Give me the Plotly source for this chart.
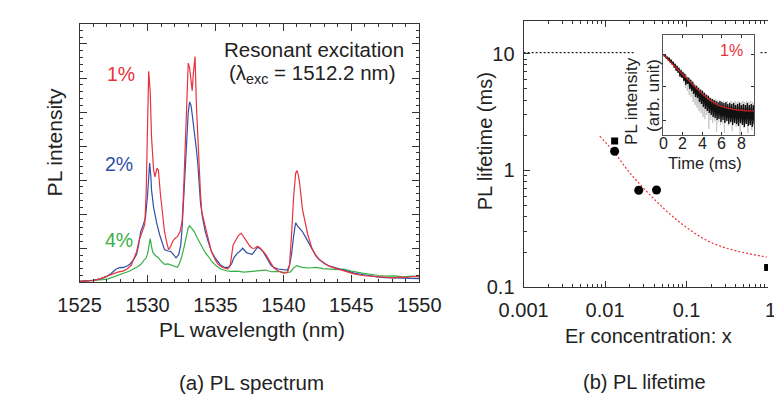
import plotly.graph_objects as go

W, H = 782, 403
FONT = "Liberation Sans"
TXT = "#222222"
AX = "#333333"
RED = "#E8323C"
BLUE = "#2F4FA8"
GREEN = "#3AAE48"

# ---------------- (a) PL spectrum data ----------------
wl_red = [1525.0, 1525.5, 1526.0, 1526.5, 1527.0, 1527.5, 1527.8, 1528.2, 1528.5, 1528.8, 1529.0, 1529.2,
          1529.4, 1529.6, 1529.8, 1529.9, 1530.0, 1530.09, 1530.2, 1530.3, 1530.45, 1530.55, 1530.7, 1530.8,
          1530.95, 1531.1, 1531.25, 1531.4, 1531.55, 1531.7, 1531.85, 1532.0, 1532.2, 1532.4, 1532.55, 1532.65,
          1532.8, 1532.9, 1533.0, 1533.1, 1533.2, 1533.29, 1533.38, 1533.5, 1533.6, 1533.7, 1533.8, 1533.9,
          1534.0, 1534.2, 1534.4, 1534.7, 1535.0, 1535.2, 1535.5, 1535.9, 1536.1, 1536.3, 1536.5, 1536.7,
          1536.9, 1537.1, 1537.3, 1537.5, 1537.7, 1537.9, 1538.1, 1538.3, 1538.5, 1538.7, 1538.9, 1539.1,
          1539.3, 1539.6, 1540.0, 1540.3, 1540.45, 1540.6, 1540.75, 1540.9, 1541.0, 1541.1, 1541.2, 1541.4,
          1541.6, 1541.8, 1542.1, 1542.3, 1542.6, 1543.0, 1543.3, 1543.6, 1544.0, 1544.3, 1544.7, 1545.2,
          1545.8, 1546.4, 1547.0, 1547.5, 1548.1, 1548.6, 1549.0, 1549.5, 1550.0]
pl_red = [0.03, 0.03, 0.05, 0.10, 0.17, 0.24, 0.30, 0.33, 0.39, 0.50, 0.70, 0.90,
          1.25, 1.50, 1.70, 2.60, 4.80, 6.20, 5.60, 4.25, 3.30, 3.10, 3.35, 3.30,
          2.60, 1.96, 1.50, 1.20, 0.96, 1.05, 1.20, 1.28, 1.34, 1.49, 1.80, 2.60,
          4.25, 5.60, 6.44, 6.30, 5.90, 5.63, 6.15, 6.63, 5.20, 4.20, 3.49, 2.60,
          2.06, 1.70, 1.39, 0.91, 0.65, 0.53, 0.44, 0.39, 0.53, 1.10, 1.25, 1.38,
          1.44, 1.30, 1.20, 1.08, 1.00, 1.00, 1.06, 1.00, 0.92, 0.82, 0.68, 0.53,
          0.42, 0.34, 0.27, 0.28, 0.50, 1.39, 2.50, 3.20, 3.28, 3.15, 2.90, 2.15,
          1.75, 1.39, 1.00, 0.85, 0.68, 0.56, 0.49, 0.44, 0.39, 0.35, 0.30, 0.25,
          0.20, 0.18, 0.17, 0.15, 0.13, 0.16, 0.14, 0.17, 0.16]

wl_blue = [1525.0, 1525.5, 1526.0, 1526.5, 1526.9, 1527.3, 1527.7, 1528.0, 1528.2, 1528.5, 1528.7, 1529.0,
           1529.2, 1529.35, 1529.5, 1529.7, 1529.85, 1530.0, 1530.1, 1530.16, 1530.25, 1530.3, 1530.45, 1530.55,
           1530.7, 1530.9, 1531.1, 1531.25, 1531.5, 1531.7, 1531.9, 1532.1, 1532.3, 1532.45, 1532.55, 1532.65,
           1532.75, 1532.9, 1533.0, 1533.1, 1533.2, 1533.3, 1533.45, 1533.6, 1533.7, 1533.8, 1533.9, 1534.05,
           1534.25, 1534.5, 1534.7, 1535.0, 1535.2, 1535.4, 1535.65, 1536.0, 1536.2, 1536.35, 1536.6, 1536.8,
           1537.0, 1537.15, 1537.3, 1537.5, 1537.7, 1537.9, 1538.1, 1538.3, 1538.5, 1538.7, 1538.9, 1539.1,
           1539.35, 1539.6, 1540.0, 1540.3, 1540.45, 1540.6, 1540.75, 1540.9, 1541.05, 1541.2, 1541.4, 1541.6,
           1541.8, 1542.1, 1542.4, 1542.7, 1543.1, 1543.4, 1543.75, 1544.2, 1544.7, 1545.2, 1545.8, 1546.4,
           1547.0, 1547.5, 1548.1, 1548.6, 1549.2, 1550.0]
pl_blue = [0.03, 0.04, 0.06, 0.10, 0.15, 0.25, 0.39, 0.44, 0.43, 0.48, 0.53, 0.68,
           0.82, 1.10, 1.49, 1.70, 1.90, 2.53, 3.30, 3.50, 3.10, 2.70, 2.20, 1.96,
           1.70, 1.39, 1.10, 0.96, 0.92, 0.91, 0.82, 0.72, 0.82, 1.10, 1.60, 2.40,
           3.30, 4.40, 5.00, 5.30, 5.20, 4.90, 4.44, 3.90, 3.49, 2.90, 2.34, 1.90,
           1.49, 1.15, 0.91, 0.70, 0.58, 0.50, 0.44, 0.44, 0.55, 0.72, 0.85, 0.91,
           1.00, 0.94, 0.87, 0.84, 0.82, 0.92, 1.03, 0.99, 0.90, 0.77, 0.62, 0.49,
           0.43, 0.39, 0.37, 0.36, 0.50, 0.82, 1.35, 1.75, 1.65, 1.58, 1.49, 1.35,
           1.20, 0.95, 0.77, 0.65, 0.53, 0.48, 0.44, 0.38, 0.32, 0.27, 0.23, 0.19,
           0.15, 0.14, 0.13, 0.12, 0.12, 0.11]

wl_green = [1525.0, 1525.6, 1526.2, 1526.7, 1527.1, 1527.6, 1528.2, 1528.7, 1529.2, 1529.5, 1529.7, 1529.9,
            1530.0, 1530.1, 1530.2, 1530.3, 1530.4, 1530.6, 1530.8, 1531.0, 1531.25, 1531.5, 1531.7, 1532.0,
            1532.2, 1532.35, 1532.5, 1532.7, 1532.9, 1533.0, 1533.1, 1533.25, 1533.45, 1533.6, 1533.8, 1534.0,
            1534.25, 1534.5, 1534.7, 1535.0, 1535.4, 1535.8, 1536.1, 1536.6, 1537.1, 1537.7, 1538.2, 1538.7,
            1539.1, 1539.6, 1540.0, 1540.5, 1540.75, 1541.0, 1541.2, 1541.4, 1541.9, 1542.4, 1542.9, 1543.5,
            1544.0, 1544.45, 1545.0, 1545.8, 1546.4, 1547.0, 1547.6, 1548.2, 1548.8, 1549.4, 1550.0]
pl_green = [0.03, 0.04, 0.06, 0.08, 0.10, 0.17, 0.25, 0.33, 0.44, 0.52, 0.63, 0.72,
            0.82, 1.05, 1.28, 1.05, 0.87, 0.78, 0.72, 0.62, 0.53, 0.54, 0.51, 0.48,
            0.44, 0.55, 0.72, 1.05, 1.39, 1.60, 1.66, 1.60, 1.49, 1.35, 1.20, 1.02,
            0.87, 0.75, 0.63, 0.50, 0.39, 0.34, 0.32, 0.33, 0.30, 0.32, 0.34, 0.36,
            0.31, 0.32, 0.29, 0.30, 0.42, 0.49, 0.46, 0.44, 0.42, 0.44, 0.40, 0.39,
            0.37, 0.39, 0.33, 0.27, 0.23, 0.20, 0.18, 0.19, 0.16, 0.18, 0.17]

# ---------------- (b) PL lifetime data ----------------
x_circle = [0.0131, 0.0259, 0.0428]
tau_circle = [1.46, 0.677, 0.68]
x_square = [0.0131, 0.99]
tau_square = [1.79, 0.1475]
x_fit = [0.0086, 0.01337, 0.019, 0.0283, 0.0421, 0.0655, 0.111, 0.206, 0.418, 0.966]
tau_fit = [1.97, 1.39, 1.00, 0.73, 0.548, 0.411, 0.308, 0.239, 0.204, 0.181]
x_ref_left = [0.001, 0.0227]
x_ref_right = [0.81, 1.0]
tau_ref = [10.2, 10.2]
x_ticks = [0.001, 0.01, 0.1, 1]
x_ticktext = ["0.001", "0.01", "0.1", "1"]
y_ticks = [0.1, 1, 10]
y_ticktext = ["0.1", "1", "10"]

# ---------------- inset decay data ----------------
t_black = [round(i * 0.1, 1) for i in range(94)]
i_black = [0.80, 0.78, 0.80, 0.76, 0.78, 0.74, 0.77, 0.72, 0.75, 0.70,
           0.73, 0.67, 0.71, 0.64, 0.69, 0.62, 0.67, 0.58, 0.65, 0.57,
           0.63, 0.54, 0.61, 0.50, 0.58, 0.51, 0.57, 0.46, 0.55, 0.44,
           0.53, 0.41, 0.50, 0.38, 0.49, 0.37, 0.47, 0.33, 0.45, 0.31,
           0.44, 0.28, 0.42, 0.26, 0.40, 0.24, 0.39, 0.22, 0.37, 0.20,
           0.36, 0.18, 0.35, 0.17, 0.34, 0.15, 0.33, 0.16, 0.34, 0.13,
           0.33, 0.15, 0.32, 0.12, 0.33, 0.14, 0.31, 0.11, 0.32, 0.13,
           0.31, 0.10, 0.32, 0.12, 0.30, 0.11, 0.31, 0.09, 0.32, 0.12,
           0.30, 0.10, 0.31, 0.08, 0.30, 0.11, 0.32, 0.09, 0.30, 0.10,
           0.31, 0.08, 0.30, 0.11]
t_gray = [round(2.05 + i * 0.1, 2) for i in range(73)]
i_gray = [0.52, 0.62, 0.47, 0.60, 0.44, 0.58, 0.40, 0.56, 0.38, 0.54,
          0.33, 0.52, 0.30, 0.49, 0.27, 0.48, 0.24, 0.46, 0.22, 0.45,
          0.18, 0.43, 0.16, 0.41, 0.20, 0.40, 0.06, 0.38, 0.15, 0.37,
          0.12, 0.36, 0.14, 0.36, 0.03, 0.35, 0.13, 0.35, 0.10, 0.34,
          0.12, 0.34, 0.02, 0.33, 0.13, 0.34, 0.09, 0.33, 0.11, 0.34,
          0.04, 0.33, 0.12, 0.34, 0.08, 0.33, 0.10, 0.34, 0.00, 0.33,
          0.11, 0.34, 0.07, 0.33, 0.12, 0.34, 0.02, 0.33, 0.10, 0.34,
          0.05, 0.33, 0.09]
t_fitcurve = [0.0, 0.5, 1.0, 1.5, 2.0, 2.5, 3.0, 3.5, 4.0, 4.5, 5.0, 5.5, 6.0, 6.5, 7.0, 7.5, 8.0, 8.5, 9.0, 9.3]
i_fitcurve = [0.80, 0.75, 0.70, 0.65, 0.60, 0.555, 0.505, 0.455, 0.41, 0.37, 0.335, 0.305, 0.285, 0.27,
              0.26, 0.252, 0.246, 0.242, 0.240, 0.239]
t_ticks = [0, 2, 4, 6, 8]


def px(x):
    return x / W


def py(y):
    return 1 - y / H


fig = go.Figure()

# (a) spectra
for wl, val, col in [(wl_green, pl_green, GREEN), (wl_blue, pl_blue, BLUE), (wl_red, pl_red, RED)]:
    fig.add_trace(go.Scatter(x=wl, y=val, mode="lines", line=dict(color=col, width=1.2),
                             xaxis="x", yaxis="y", showlegend=False))

# (b) lifetime
for xs in (x_ref_left, x_ref_right):
    fig.add_trace(go.Scatter(x=xs, y=tau_ref, mode="lines", line=dict(color="#222", width=1.3, dash="2px,2px"),
                             xaxis="x2", yaxis="y2", showlegend=False))
fig.add_trace(go.Scatter(x=x_fit, y=tau_fit, mode="lines",
                         line=dict(color=RED, width=1.2, dash="2px,2px", shape="spline"),
                         xaxis="x2", yaxis="y2", showlegend=False))
fig.add_trace(go.Scatter(x=x_circle, y=tau_circle, mode="markers", marker=dict(symbol="circle", size=9, color="black"),
                         xaxis="x2", yaxis="y2", showlegend=False))
fig.add_trace(go.Scatter(x=x_square, y=tau_square, mode="markers", marker=dict(symbol="square", size=7, color="black"),
                         xaxis="x2", yaxis="y2", showlegend=False))

# inset
fig.add_trace(go.Scatter(x=t_gray, y=i_gray, mode="lines", line=dict(color="#c8c8c8", width=1),
                         xaxis="x3", yaxis="y3", showlegend=False))
fig.add_trace(go.Scatter(x=t_black, y=i_black, mode="lines", line=dict(color="#111111", width=1.3),
                         xaxis="x3", yaxis="y3", showlegend=False))
fig.add_trace(go.Scatter(x=t_fitcurve, y=i_fitcurve, mode="lines", line=dict(color="#D42020", width=1.2, shape="spline"),
                         xaxis="x3", yaxis="y3", showlegend=False))

tickfont = dict(family=FONT, size=20, color=TXT)
log_minor_x = [m * 10 ** e for e in (-3, -2, -1) for m in range(2, 10)]
log_minor_y = [m * 10 ** e for e in (-1, 0, 1) for m in range(2, 10)]

fig.update_layout(
    width=W, height=H, autosize=False,
    margin=dict(l=0, r=0, t=0, b=0),
    paper_bgcolor="white", plot_bgcolor="white",
    font=dict(family=FONT, color=TXT),
    xaxis=dict(domain=[px(49.5), px(411)], range=[1525, 1550], tickmode="array",
               tickvals=[1525, 1530, 1535, 1540, 1545, 1550], ticks="inside", ticklen=7, tickwidth=1,
               tickcolor=AX, showline=True, linecolor=AX, linewidth=1.2, mirror="ticks", showgrid=False,
               zeroline=False, tickfont=tickfont, ticklabelstandoff=5,
               minor=dict(dtick=1, ticks="inside", ticklen=3.5, tickcolor=AX, showgrid=False),
               anchor="y"),
    yaxis=dict(domain=[py(282), py(16)], range=[0, 7.6], dtick=1, tick0=0, ticks="inside", ticklen=7,
               tickcolor=AX, showticklabels=False, showline=True, linecolor=AX, linewidth=1.2,
               mirror="ticks", showgrid=False, zeroline=False,
               minor=dict(dtick=0.2, ticks="inside", ticklen=3.5, tickcolor=AX, showgrid=False),
               anchor="x"),
    xaxis2=dict(domain=[px(522), 1.0], type="log", range=[-3, 0.0], tickmode="array",
                tickvals=x_ticks, ticktext=x_ticktext[:-1] + [""],
                ticks="inside", ticklen=6, tickcolor=AX, showline=True, linecolor=AX, linewidth=1.2,
                mirror="ticks", showgrid=False, zeroline=False, tickfont=tickfont, ticklabelstandoff=5,
                minor=dict(tickmode="array", tickvals=log_minor_x, ticks="inside", ticklen=3, tickcolor=AX,
                           showgrid=False),
                anchor="y2"),
    yaxis2=dict(domain=[py(287), py(13)], type="log", range=[-1, 1.283], tickmode="array",
                tickvals=y_ticks, ticktext=y_ticktext,
                ticks="inside", ticklen=6, tickcolor=AX, showline=True, linecolor=AX, linewidth=1.2,
                mirror=False, showgrid=False, zeroline=False, tickfont=tickfont, ticklabelstandoff=4,
                minor=dict(tickmode="array", tickvals=log_minor_y, ticks="inside", ticklen=3, tickcolor=AX,
                           showgrid=False),
                anchor="x2"),
    xaxis3=dict(domain=[px(670.7), px(767.3)], range=[0, 9.3], tickmode="array", tickvals=t_ticks,
                ticks="inside", ticklen=3, tickcolor=AX, showline=True, linecolor="#555", linewidth=1,
                mirror="ticks", showgrid=False, zeroline=False, showticklabels=False, anchor="y3"),
    yaxis3=dict(domain=[py(130.7), py(27.3)], range=[0, 1], tickmode="array", tickvals=[0.142, 0.48, 0.797],
                ticks="inside", ticklen=3, tickcolor=AX, showticklabels=False, showline=True,
                linecolor="#555", linewidth=1, mirror="ticks", showgrid=False, zeroline=False, anchor="x3"),
)


def ann(text, x, y, size, color=TXT, angle=0):
    fig.add_annotation(text=text, x=px(x), y=py(y), xref="paper", yref="paper", showarrow=False,
                       textangle=angle, font=dict(family=FONT, size=size, color=color),
                       xanchor="center", yanchor="middle", borderpad=0)


# inset tick labels placed on the inset's own x scale
for tv in t_ticks:
    fig.add_annotation(text=str(tv), x=tv, xref="x3", y=py(139.5), yref="paper", showarrow=False,
                       font=dict(family=FONT, size=16, color=TXT), xanchor="center", yanchor="middle",
                       borderpad=0)
# last x tick label of panel (b), partially cut by the figure edge as in the reference
fig.add_annotation(text=x_ticktext[-1], x=0, xref="x2", y=py(310), yref="paper", showarrow=False,
                   font=tickfont, xanchor="left", xshift=-4, yanchor="middle", borderpad=0)

ann("PL intensity", 22.5, 138, 21, angle=-90)
ann("PL wavelength (nm)", 233, 331, 21)
ann("(a) PL spectrum", 233, 385, 20.5)
ann("Resonant excitation", 299, 43, 20.5)
ann("(λ<sub>exc</sub> = 1512.2 nm)", 297, 68, 20.5)
ann("1%", 93.5, 68, 19.5, RED)
ann("2%", 91, 160, 19.5, BLUE)
ann("4%", 91, 238, 19.5, GREEN)

ann("PL lifetime (ms)", 481, 137, 20, angle=-90)
ann("Er concentration: x", 655, 337, 20)
ann("(b) PL lifetime", 651, 385, 20)
ann("PL intensity", 637, 96, 17, angle=-90)
ann("(arb. unit)", 660, 90, 17, angle=-90)
ann("Time (ms)", 715, 159.5, 16.5)
ann("1%", 743, 44, 16, RED)

fig.write_html("out.html")
